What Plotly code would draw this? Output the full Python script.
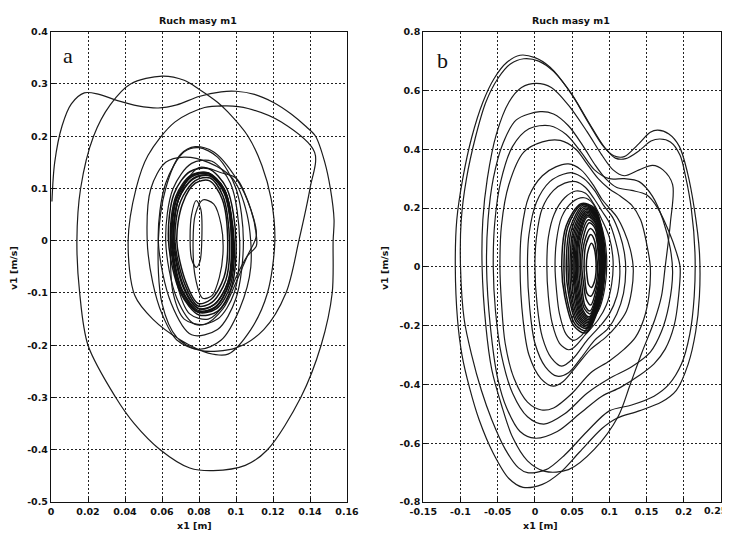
import plotly.graph_objects as go

# ---------------- Panel a : tick definitions ----------------
a_xticks = [0, 0.02, 0.04, 0.06, 0.08, 0.1, 0.12, 0.14, 0.16]
a_xlabels = ["0", "0.02", "0.04", "0.06", "0.08", "0.1", "0.12", "0.14", "0.16"]
a_yticks = [-0.5, -0.4, -0.3, -0.2, -0.1, 0, 0.1, 0.2, 0.3, 0.4]
a_ylabels = ["-0.5", "-0.4", "-0.3", "-0.2", "-0.1", "0", "0.1", "0.2", "0.3", "0.4"]

# ---------------- Panel b : tick definitions ----------------
b_xticks = [-0.15, -0.1, -0.05, 0, 0.05, 0.1, 0.15, 0.2, 0.25]
b_xlabels = ["-0.15", "-0.1", "-0.05", "0", "0.05", "0.1", "0.15", "0.2", "0.25"]
b_yticks = [-0.8, -0.6, -0.4, -0.2, 0, 0.2, 0.4, 0.6, 0.8]
b_ylabels = ["-0.8", "-0.6", "-0.4", "-0.2", "0", "0.2", "0.4", "0.6", "0.8"]

# ---------------- Panel a : trajectory pieces (x1 [m], v1 [m/s]) ----------------
a_path = [(0.0005, 0.075), (0.002, 0.15), (0.006, 0.22), (0.011, 0.262), (0.018, 0.283), (0.026, 0.28),
          (0.036, 0.268), (0.047, 0.258), (0.058, 0.254), (0.068, 0.26), (0.08, 0.276), (0.092, 0.285),
          (0.1, 0.286), (0.11, 0.28), (0.12, 0.265), (0.13, 0.242), (0.138, 0.218), (0.143, 0.2),
          (0.148, 0.15), (0.151, 0.1), (0.153, 0.04), (0.1525, 0.0), (0.152, -0.1), (0.146, -0.2),
          (0.135, -0.3), (0.117, -0.4), (0.105, -0.43), (0.0877, -0.44), (0.075, -0.435), (0.059, -0.4),
          (0.045, -0.35), (0.035, -0.3), (0.020, -0.2), (0.0155, -0.1), (0.014, 0.0), (0.016, 0.1),
          (0.023, 0.2), (0.032, 0.26), (0.043, 0.3), (0.06, 0.315), (0.072, 0.307), (0.08, 0.29),
          (0.09, 0.265), (0.0957, 0.246), (0.1065, 0.2), (0.114, 0.144), (0.119, 0.08), (0.121, 0.0),
          (0.117, -0.1), (0.108, -0.17), (0.0957, -0.217), (0.085, -0.215), (0.07, -0.19), (0.055, -0.15),
          (0.0453, -0.105), (0.0417, 0.0), (0.046, 0.1), (0.0524, 0.163), (0.0669, 0.227), (0.083, 0.255),
          (0.095, 0.258), (0.1065, 0.253), (0.1245, 0.227), (0.1425, 0.169), (0.14, 0.1), (0.134, 0.0),
          (0.127, -0.1), (0.115, -0.17), (0.1, -0.205), (0.0805, -0.21), (0.068, -0.185), (0.06, -0.12),
          (0.058, 0.0), (0.062, 0.1), (0.07, 0.165), (0.078, 0.18), (0.088, 0.17), (0.1, 0.12),
          (0.108, 0.06), (0.111, 0.01), (0.106, -0.03), (0.1, -0.08), (0.093, -0.13), (0.083, -0.16),
          (0.072, -0.15), (0.066, -0.1), (0.0645, 0.0)]
a_loop_l2 = [(0.052, 0.0), (0.054, 0.1), (0.062, 0.15), (0.072, 0.16), (0.085, 0.15), (0.098, 0.12),
             (0.106, 0.05), (0.108, -0.05), (0.102, -0.13), (0.092, -0.19), (0.08, -0.208), (0.068, -0.19),
             (0.06, -0.14), (0.055, -0.08), (0.052, 0.0)]
a_loop_m1 = [(0.062, 0.0), (0.066, 0.1), (0.076, 0.148), (0.087, 0.152), (0.097, 0.11), (0.102, 0.0),
             (0.099, -0.1), (0.09, -0.15), (0.078, -0.16), (0.068, -0.11), (0.062, 0.0)]
a_loop_m2 = [(0.058, 0.0), (0.062, 0.11), (0.072, 0.17), (0.08, 0.178), (0.09, 0.16), (0.1, 0.1),
             (0.104, 0.0), (0.1, -0.11), (0.09, -0.17), (0.076, -0.18), (0.065, -0.12), (0.058, 0.0)]
a_loop_k = [(0.066, 0.0), (0.07, 0.09), (0.08, 0.14), (0.092, 0.13), (0.1, 0.12), (0.108, 0.06),
            (0.111, 0.01), (0.111, -0.01), (0.106, -0.03), (0.1, -0.07), (0.094, -0.12), (0.085, -0.15),
            (0.075, -0.14), (0.068, -0.08), (0.066, 0.0)]
a_ring1 = [(0.0655, 0.0), (0.068, 0.08), (0.076, 0.122), (0.085, 0.128), (0.094, 0.095), (0.0985, 0.0),
           (0.0965, -0.08), (0.089, -0.126), (0.08, -0.134), (0.071, -0.095), (0.0655, 0.0)]
a_ring2 = [(0.0665, 0.0), (0.069, 0.08), (0.077, 0.12), (0.086, 0.125), (0.094, 0.09), (0.0975, 0.0),
           (0.0955, -0.08), (0.088, -0.123), (0.08, -0.13), (0.072, -0.09), (0.0665, 0.0)]
a_ring3 = [(0.0645, 0.0), (0.0675, 0.085), (0.0755, 0.125), (0.0845, 0.13), (0.0935, 0.1), (0.099, 0.0),
           (0.097, -0.085), (0.0895, -0.13), (0.0795, -0.137), (0.0705, -0.1), (0.0645, 0.0)]
a_ring4 = [(0.067, 0.0), (0.07, 0.075), (0.078, 0.115), (0.086, 0.12), (0.093, 0.085), (0.0965, 0.0),
           (0.0945, -0.075), (0.087, -0.118), (0.0795, -0.125), (0.0725, -0.085), (0.067, 0.0)]
a_ring5 = [(0.0635, 0.0), (0.0665, 0.09), (0.075, 0.132), (0.085, 0.138), (0.095, 0.1), (0.1, 0.0),
           (0.0975, -0.09), (0.09, -0.135), (0.08, -0.142), (0.07, -0.1), (0.0635, 0.0)]
a_ring6 = [(0.068, 0.0), (0.071, 0.07), (0.078, 0.11), (0.0855, 0.115), (0.0925, 0.08), (0.0955, 0.0),
           (0.0935, -0.07), (0.0865, -0.112), (0.0795, -0.12), (0.073, -0.08), (0.068, 0.0)]
a_ring7 = [(0.065, 0.0), (0.0678, 0.082), (0.0758, 0.124), (0.0848, 0.13), (0.0938, 0.097), (0.0982, 0.0),
           (0.0962, -0.082), (0.0888, -0.128), (0.0798, -0.136), (0.0708, -0.097), (0.065, 0.0)]
a_ring8 = [(0.066, 0.0), (0.0688, 0.078), (0.0768, 0.118), (0.0858, 0.124), (0.0935, 0.092), (0.0978, 0.0),
           (0.0958, -0.078), (0.0883, -0.122), (0.0798, -0.13), (0.0718, -0.092), (0.066, 0.0)]
a_inner1 = [(0.0752, 0.0), (0.076, 0.05), (0.0785, 0.077), (0.081, 0.06), (0.0815, 0.0), (0.0805, -0.04),
            (0.0785, -0.051), (0.076, -0.035), (0.0752, 0.0)]
a_inner2 = [(0.0768, 0.0), (0.078, 0.05), (0.082, 0.078), (0.088, 0.07), (0.092, 0.03), (0.093, -0.02),
            (0.091, -0.07), (0.087, -0.105), (0.082, -0.11), (0.078, -0.07), (0.0768, 0.0)]

# ---------------- Panel b : trajectory loops ----------------
b_loop1 = [(-0.107, 0.0), (-0.105, 0.16), (-0.097, 0.3), (-0.085, 0.44), (-0.07, 0.56), (-0.055, 0.64),
           (-0.038, 0.695), (-0.02, 0.72), (0.0, 0.712), (0.02, 0.68), (0.047, 0.596), (0.072, 0.49),
           (0.092, 0.41), (0.106, 0.378), (0.12, 0.375), (0.138, 0.415), (0.155, 0.458), (0.165, 0.465),
           (0.18, 0.452), (0.194, 0.41), (0.205, 0.32), (0.214, 0.2), (0.221, 0.05), (0.221, -0.1),
           (0.216, -0.22), (0.206, -0.33), (0.19, -0.42), (0.17, -0.46), (0.14, -0.49), (0.11, -0.515),
           (0.09, -0.55), (0.06, -0.63), (0.034, -0.70), (0.01, -0.74), (-0.016, -0.75), (-0.035, -0.72),
           (-0.056, -0.634), (-0.075, -0.52), (-0.088, -0.41), (-0.098, -0.3), (-0.104, -0.18), (-0.107, 0.0)]
b_loop2 = [(-0.1, 0.0), (-0.099, 0.16), (-0.092, 0.3), (-0.08, 0.44), (-0.066, 0.56), (-0.05, 0.64),
           (-0.033, 0.69), (-0.015, 0.708), (0.005, 0.7), (0.025, 0.665), (0.05, 0.585), (0.075, 0.48),
           (0.094, 0.405), (0.108, 0.37), (0.122, 0.368), (0.14, 0.395), (0.156, 0.428), (0.168, 0.435),
           (0.182, 0.425), (0.195, 0.38), (0.203, 0.3), (0.21, 0.2), (0.215, 0.05), (0.214, -0.1),
           (0.208, -0.23), (0.197, -0.33), (0.18, -0.4), (0.16, -0.44), (0.13, -0.47), (0.1, -0.49),
           (0.07, -0.56), (0.04, -0.64), (0.015, -0.69), (-0.01, -0.70), (-0.022, -0.684), (-0.04, -0.62),
           (-0.058, -0.52), (-0.072, -0.42), (-0.085, -0.3), (-0.095, -0.18), (-0.1, 0.0)]
b_loop3 = [(-0.071, 0.0), (-0.07, 0.16), (-0.064, 0.3), (-0.052, 0.45), (-0.035, 0.56), (-0.018, 0.61),
           (0.002, 0.624), (0.022, 0.61), (0.045, 0.55), (0.07, 0.46), (0.09, 0.38), (0.105, 0.33),
           (0.12, 0.31), (0.14, 0.33), (0.158, 0.345), (0.172, 0.33), (0.185, 0.28), (0.182, 0.15),
           (0.175, 0.0), (0.17, -0.1), (0.161, -0.18), (0.1435, -0.293), (0.128, -0.4), (0.112, -0.508),
           (0.08, -0.62), (0.045, -0.69), (0.0135, -0.696), (-0.01, -0.66), (-0.03, -0.58), (-0.045, -0.47),
           (-0.058, -0.35), (-0.066, -0.2), (-0.071, 0.0)]
b_loop4 = [(-0.065, 0.0), (-0.063, 0.16), (-0.056, 0.3), (-0.043, 0.42), (-0.025, 0.5), (0.007, 0.528),
           (0.025, 0.52), (0.045, 0.48), (0.065, 0.41), (0.08, 0.35), (0.095, 0.3), (0.11, 0.27),
           (0.13, 0.26), (0.15, 0.245), (0.165, 0.2), (0.18, 0.12), (0.19, 0.05), (0.195, 0.0),
           (0.193, -0.1), (0.187, -0.2), (0.175, -0.28), (0.16, -0.33), (0.14, -0.37), (0.115, -0.41),
           (0.09, -0.44), (0.06, -0.5), (0.03, -0.56), (0.0, -0.583), (-0.02, -0.56), (-0.038, -0.48),
           (-0.05, -0.38), (-0.06, -0.2), (-0.065, 0.0)]
b_loop4b = [(-0.056, 0.0), (-0.054, 0.15), (-0.046, 0.29), (-0.03, 0.41), (-0.008, 0.47), (0.02, 0.48),
            (0.042, 0.45), (0.062, 0.39), (0.08, 0.33), (0.1, 0.3), (0.12, 0.3), (0.14, 0.29),
            (0.158, 0.24), (0.172, 0.16), (0.182, 0.06), (0.185, -0.02), (0.18, -0.13), (0.17, -0.22),
            (0.155, -0.29), (0.13, -0.34), (0.1, -0.38), (0.07, -0.43), (0.04, -0.5), (0.012, -0.535),
            (-0.01, -0.51), (-0.03, -0.43), (-0.045, -0.3), (-0.053, -0.15), (-0.056, 0.0)]
b_loop5 = [(-0.047, 0.0), (-0.045, 0.14), (-0.035, 0.28), (-0.015, 0.39), (0.01, 0.425), (0.034, 0.43),
           (0.055, 0.4), (0.07, 0.35), (0.085, 0.3), (0.1, 0.265), (0.115, 0.24), (0.13, 0.21),
           (0.142, 0.16), (0.15, 0.08), (0.155, 0.0), (0.153, -0.1), (0.146, -0.18), (0.135, -0.24),
           (0.12, -0.28), (0.1, -0.32), (0.075, -0.36), (0.05, -0.43), (0.025, -0.48), (0.009, -0.487),
           (-0.01, -0.46), (-0.028, -0.38), (-0.04, -0.26), (-0.045, -0.12), (-0.047, 0.0)]
b_loop6 = [(-0.02, 0.0), (-0.018, 0.12), (-0.008, 0.24), (0.01, 0.31), (0.028, 0.34), (0.045, 0.35),
           (0.062, 0.33), (0.078, 0.28), (0.09, 0.23), (0.1, 0.2), (0.11, 0.17), (0.12, 0.12),
           (0.128, 0.06), (0.132, 0.0), (0.13, -0.08), (0.123, -0.15), (0.11, -0.2), (0.095, -0.24),
           (0.075, -0.28), (0.055, -0.34), (0.038, -0.39), (0.0246, -0.406), (0.008, -0.38), (-0.008, -0.3),
           (-0.016, -0.18), (-0.02, 0.0)]
b_loop6b = [(-0.01, 0.0), (-0.008, 0.11), (0.002, 0.22), (0.02, 0.29), (0.038, 0.315), (0.05, 0.32),
            (0.066, 0.3), (0.08, 0.26), (0.092, 0.21), (0.104, 0.17), (0.114, 0.11), (0.12, 0.05),
            (0.122, -0.01), (0.119, -0.09), (0.11, -0.16), (0.098, -0.21), (0.08, -0.25), (0.062, -0.31),
            (0.045, -0.36), (0.03, -0.372), (0.014, -0.34), (0.0, -0.26), (-0.007, -0.14), (-0.01, 0.0)]
b_loop7 = [(0.0, 0.0), (0.002, 0.1), (0.01, 0.2), (0.025, 0.26), (0.04, 0.285), (0.055, 0.29),
           (0.068, 0.27), (0.08, 0.23), (0.09, 0.19), (0.1, 0.15), (0.108, 0.09), (0.113, 0.03),
           (0.114, -0.03), (0.11, -0.1), (0.1, -0.16), (0.088, -0.2), (0.07, -0.25), (0.052, -0.31),
           (0.036, -0.338), (0.022, -0.31), (0.01, -0.24), (0.003, -0.13), (0.0, 0.0)]
b_loop8 = [(0.016, 0.0), (0.018, 0.1), (0.026, 0.18), (0.04, 0.235), (0.055, 0.258), (0.068, 0.25),
           (0.08, 0.21), (0.09, 0.16), (0.1, 0.1), (0.105, 0.02), (0.103, -0.06), (0.096, -0.13),
           (0.085, -0.18), (0.068, -0.23), (0.052, -0.275), (0.045, -0.282), (0.033, -0.26), (0.023, -0.19),
           (0.018, -0.1), (0.016, 0.0)]
b_loop9 = [(0.027, 0.0), (0.029, 0.09), (0.036, 0.17), (0.05, 0.22), (0.066, 0.235), (0.078, 0.215),
           (0.087, 0.16), (0.094, 0.09), (0.0965, 0.01), (0.094, -0.07), (0.087, -0.14), (0.075, -0.19),
           (0.062, -0.235), (0.052, -0.25), (0.042, -0.23), (0.033, -0.16), (0.029, -0.08), (0.027, 0.0)]
b_core1 = [(0.036, 0.0), (0.042, 0.14), (0.062, 0.215), (0.08, 0.2), (0.092, 0.1), (0.094, -0.02),
           (0.087, -0.13), (0.068, -0.225), (0.052, -0.2), (0.04, -0.1), (0.036, 0.0)]
b_core1b = [(0.039, 0.0), (0.044, 0.135), (0.063, 0.212), (0.08, 0.195), (0.0915, 0.1), (0.0935, -0.02),
            (0.0865, -0.125), (0.069, -0.218), (0.054, -0.195), (0.042, -0.095), (0.039, 0.0)]
b_core2 = [(0.042, 0.0), (0.047, 0.13), (0.065, 0.21), (0.08, 0.19), (0.091, 0.1), (0.093, -0.02),
           (0.086, -0.12), (0.07, -0.21), (0.056, -0.19), (0.045, -0.09), (0.042, 0.0)]
b_core2b = [(0.0445, 0.0), (0.049, 0.125), (0.066, 0.205), (0.0805, 0.185), (0.0905, 0.095), (0.0925, -0.02),
            (0.0855, -0.12), (0.0705, -0.205), (0.0575, -0.185), (0.047, -0.09), (0.0445, 0.0)]
b_core3 = [(0.047, 0.0), (0.051, 0.12), (0.067, 0.2), (0.081, 0.18), (0.09, 0.09), (0.092, -0.02),
           (0.085, -0.12), (0.071, -0.2), (0.059, -0.18), (0.049, -0.09), (0.047, 0.0)]
b_core3b = [(0.049, 0.0), (0.053, 0.12), (0.068, 0.195), (0.0815, 0.175), (0.0895, 0.085), (0.0915, -0.02),
            (0.085, -0.115), (0.0715, -0.195), (0.06, -0.175), (0.051, -0.085), (0.049, 0.0)]
b_core4 = [(0.051, 0.0), (0.055, 0.12), (0.069, 0.19), (0.082, 0.17), (0.089, 0.08), (0.091, -0.02),
           (0.085, -0.11), (0.072, -0.19), (0.061, -0.17), (0.053, -0.08), (0.051, 0.0)]
b_core4b = [(0.0525, 0.0), (0.0565, 0.115), (0.0695, 0.185), (0.082, 0.165), (0.0885, 0.08), (0.0905, -0.02),
            (0.0845, -0.11), (0.0725, -0.185), (0.062, -0.165), (0.0545, -0.08), (0.0525, 0.0)]
b_core5 = [(0.054, 0.0), (0.058, 0.11), (0.07, 0.18), (0.082, 0.16), (0.088, 0.08), (0.09, -0.02),
           (0.084, -0.11), (0.073, -0.18), (0.063, -0.16), (0.056, -0.08), (0.054, 0.0)]
b_core5b = [(0.0555, 0.0), (0.059, 0.105), (0.0705, 0.175), (0.0815, 0.155), (0.0875, 0.075), (0.0895, -0.02),
            (0.084, -0.105), (0.073, -0.175), (0.064, -0.155), (0.0575, -0.075), (0.0555, 0.0)]
b_core6 = [(0.057, 0.0), (0.06, 0.1), (0.071, 0.17), (0.081, 0.15), (0.087, 0.07), (0.089, -0.02),
           (0.084, -0.1), (0.073, -0.17), (0.065, -0.15), (0.059, -0.07), (0.057, 0.0)]
b_core7 = [(0.059, 0.0), (0.062, 0.1), (0.072, 0.16), (0.081, 0.14), (0.086, 0.07), (0.088, -0.02),
           (0.083, -0.1), (0.074, -0.16), (0.066, -0.14), (0.061, -0.07), (0.059, 0.0)]
b_core8 = [(0.061, 0.0), (0.064, 0.09), (0.073, 0.15), (0.081, 0.13), (0.085, 0.06), (0.087, -0.02),
           (0.083, -0.09), (0.074, -0.15), (0.067, -0.13), (0.063, -0.06), (0.061, 0.0)]
b_core9 = [(0.063, 0.0), (0.066, 0.08), (0.074, 0.13), (0.081, 0.11), (0.085, 0.05), (0.086, -0.02),
           (0.082, -0.08), (0.075, -0.13), (0.069, -0.11), (0.065, -0.05), (0.063, 0.0)]
b_core10 = [(0.066, 0.0), (0.068, 0.07), (0.075, 0.11), (0.08, 0.09), (0.083, 0.04), (0.084, -0.02),
            (0.081, -0.07), (0.075, -0.1), (0.07, -0.09), (0.067, -0.04), (0.066, 0.0)]
b_core11 = [(0.069, 0.0), (0.071, 0.05), (0.076, 0.08), (0.08, 0.06), (0.082, 0.02), (0.082, -0.02),
            (0.08, -0.05), (0.076, -0.07), (0.072, -0.06), (0.07, -0.03), (0.069, 0.0)]

a_curves = [a_path, a_loop_l2, a_loop_m1, a_loop_m2, a_loop_k, a_inner1, a_inner2]
a_ring_curves = [a_ring1, a_ring2, a_ring3, a_ring4, a_ring5, a_ring6, a_ring7, a_ring8]
b_curves = [b_loop1, b_loop2, b_loop3, b_loop4, b_loop4b, b_loop5, b_loop6, b_loop6b, b_loop7,
            b_loop8, b_loop9]
b_core_curves = [b_core1, b_core1b, b_core2, b_core2b, b_core3, b_core3b, b_core4, b_core4b, b_core5,
                 b_core5b, b_core6, b_core7, b_core8, b_core9, b_core10, b_core11]

LINE = dict(color="#1c1c1c", width=1.2, shape="spline", smoothing=0.9)
THICK = dict(color="#111111", width=1.5, shape="spline", smoothing=0.9)

fig = go.Figure()


def add(curves, line, xa, ya):
    for c in curves:
        fig.add_trace(go.Scatter(x=[p[0] for p in c], y=[p[1] for p in c], mode="lines",
                                 line=line, xaxis=xa, yaxis=ya, showlegend=False, hoverinfo="skip"))


add(a_curves, LINE, "x", "y")
add(a_ring_curves, THICK, "x", "y")
add(b_curves, LINE, "x2", "y2")
add(b_core_curves, THICK, "x2", "y2")

# The page body has an 8px margin: positions are offset by 8px.
OFF = 8
W, H = 730 - OFF, 533 - OFF


def fx(px):
    return (px - OFF) / W


def fy(py):
    return 1 - (py - OFF) / H


ydom = [fy(502), fy(31.7)]
tickfont = dict(family="DejaVu Sans, sans-serif", size=9.5, color="#111", weight="bold")


def ax(dom, rng, vals, txt, anchor):
    return dict(domain=dom, range=rng, tickvals=vals, ticktext=txt, showgrid=True,
                gridcolor="#222", griddash="2px,2px", gridwidth=1, zeroline=False,
                showline=True, mirror=True, linecolor="#111", linewidth=1.3,
                ticks="inside", ticklen=4, tickcolor="#111", tickfont=tickfont,
                anchor=anchor, fixedrange=True, automargin=False)


# last label of panel b's x axis sits at the page edge: it is drawn as an annotation nudged inwards
b_xlabels_axis = b_xlabels[:-1] + [""]

fig.update_layout(
    width=W, height=H, margin=dict(l=0, r=0, t=0, b=0),
    paper_bgcolor="white", plot_bgcolor="white",
    xaxis=ax([fx(51), fx(347)], [0, 0.16], a_xticks, a_xlabels, "y"),
    yaxis=ax(ydom, [-0.5, 0.4], a_yticks, a_ylabels, "x"),
    xaxis2=ax([fx(423.3), fx(721)], [-0.15, 0.25], b_xticks, b_xlabels_axis, "y2"),
    yaxis2=ax(ydom, [-0.8, 0.8], b_yticks, b_ylabels, "x2"),
)

small = dict(family="DejaVu Sans, sans-serif", size=9.5, color="#111", weight="bold")
serif = dict(family="Liberation Serif, DejaVu Serif, serif", size=22, color="#111")
ann = [
    dict(text="Ruch masy m1", x=fx(198), y=fy(20), font=small),
    dict(text="Ruch masy m1", x=fx(571), y=fy(20), font=small),
    dict(text="x1 [m]", x=fx(194), y=fy(525), font=small),
    dict(text="x1 [m]", x=fx(540), y=fy(525), font=small),
    dict(text="v1 [m/s]", x=fx(13), y=fy(268), font=small, textangle=-90),
    dict(text="v1 [m/s]", x=fx(384), y=fy(268), font=small, textangle=-90),
    dict(text="a", x=fx(68), y=fy(55), font=serif),
    dict(text="b", x=fx(442), y=fy(60), font=serif),
]
for a in ann:
    a.update(xref="paper", yref="paper", showarrow=False, xanchor="center", yanchor="middle")
ann.append(dict(text=b_xlabels[-1], x=b_xticks[-1], xref="x2", y=fy(510), yref="paper",
                xanchor="right", yanchor="middle", xshift=8, showarrow=False, font=tickfont))
fig.update_layout(annotations=ann)

fig.write_html("out.html",
               post_script="document.documentElement.style.overflow='hidden';"
                           "document.body.style.overflow='hidden';")
